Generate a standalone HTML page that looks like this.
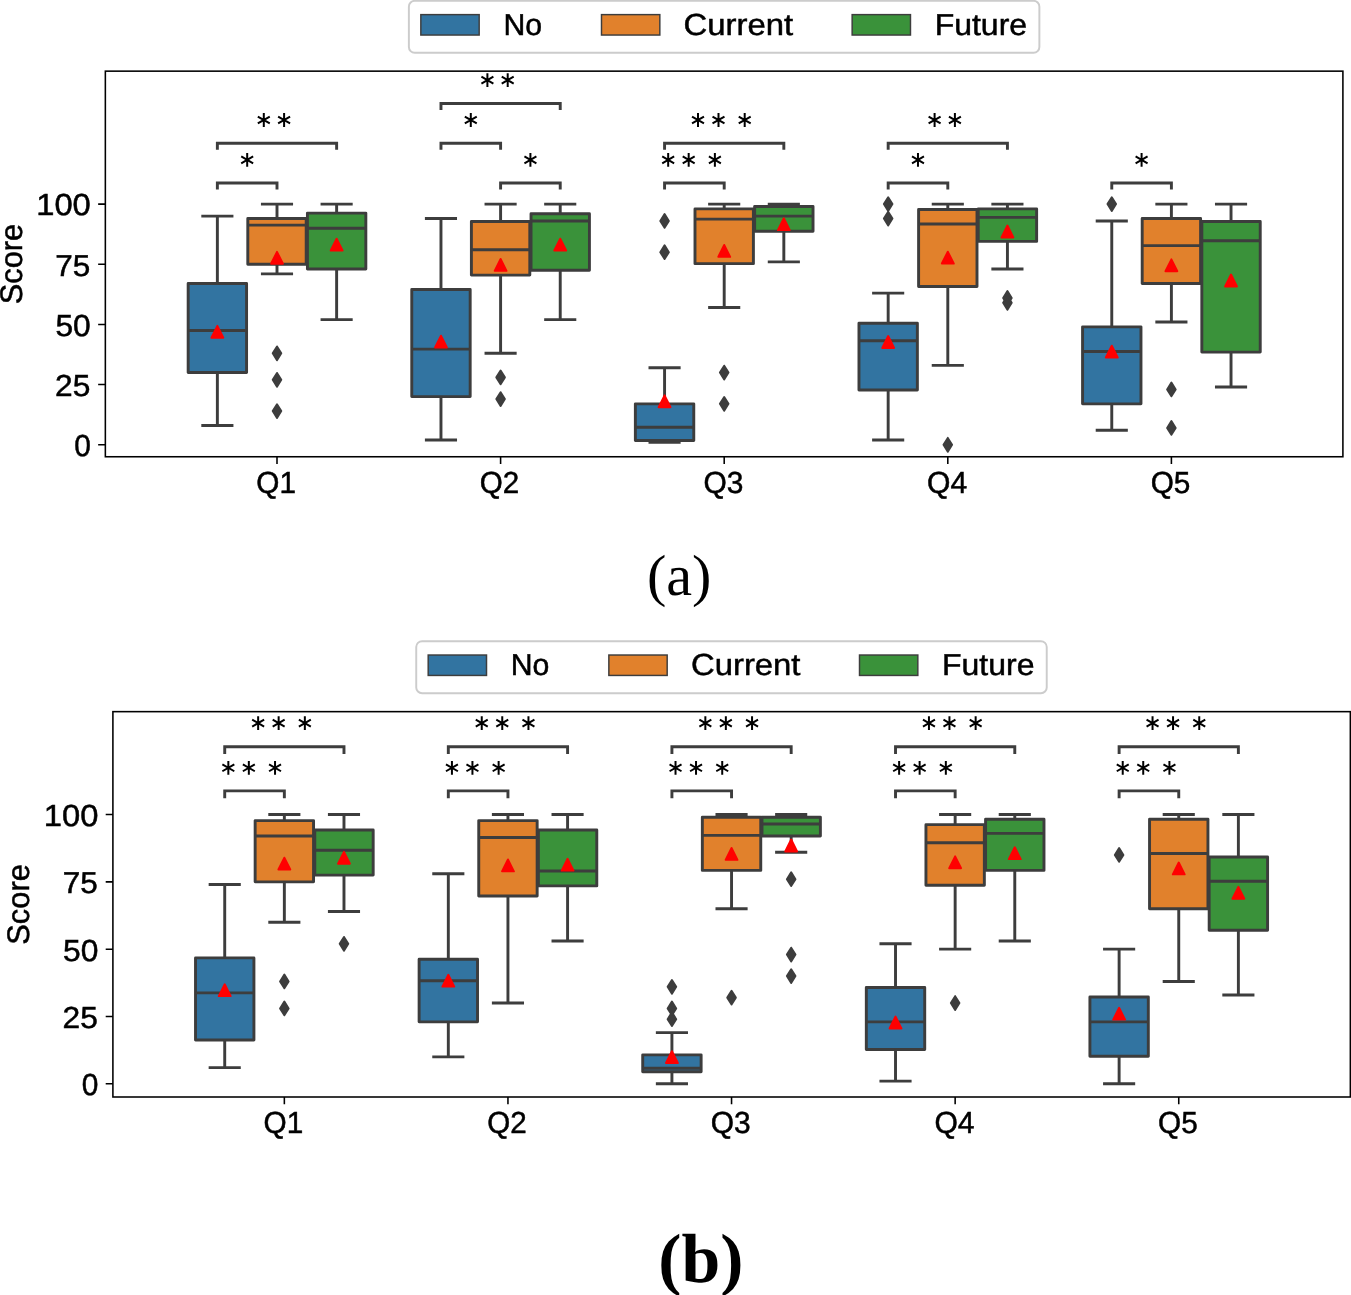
<!DOCTYPE html>
<html><head><meta charset="utf-8"><title>Score boxplots</title>
<style>
html,body{margin:0;padding:0;background:#fff;}
body{width:1351px;height:1295px;overflow:hidden;}
svg{display:block;will-change:transform;}
text{font-family:"Liberation Sans",sans-serif;fill:#000;stroke:#000;stroke-width:0.5px;text-rendering:geometricPrecision;}
.cap{font-family:"Liberation Serif",serif;stroke:none;}
</style></head><body>
<svg width="1351" height="1295" viewBox="0 0 1351 1295">
<rect width="1351" height="1295" fill="#fff"/>
<!-- chart a -->
<g stroke="#3d3d3d" stroke-width="2.92" stroke-linejoin="round"><rect x="188.17" y="283.52" width="58.4" height="89.04" fill="#3274a1"/><rect x="247.8" y="218.54" width="58.4" height="45.73" fill="#e1812c"/><rect x="307.43" y="213.12" width="58.4" height="55.95" fill="#3a923a"/><rect x="411.77" y="289.53" width="58.4" height="107.09" fill="#3274a1"/><rect x="471.4" y="221.55" width="58.4" height="53.55" fill="#e1812c"/><rect x="531.03" y="213.73" width="58.4" height="56.56" fill="#3a923a"/><rect x="635.37" y="403.85" width="58.4" height="36.7" fill="#3274a1"/><rect x="695" y="208.91" width="58.4" height="54.75" fill="#e1812c"/><rect x="754.63" y="206.51" width="58.4" height="24.67" fill="#3a923a"/><rect x="858.97" y="323.23" width="58.4" height="66.78" fill="#3274a1"/><rect x="918.6" y="209.51" width="58.4" height="77.01" fill="#e1812c"/><rect x="978.23" y="208.91" width="58.4" height="32.49" fill="#3a923a"/><rect x="1082.57" y="326.84" width="58.4" height="77.01" fill="#3274a1"/><rect x="1142.2" y="218.54" width="58.4" height="64.98" fill="#e1812c"/><rect x="1201.83" y="221.55" width="58.4" height="130.56" fill="#3a923a"/></g>
<g stroke="#3d3d3d" stroke-width="2.92" fill="none"><path d="M217.37 283.52V216.13M217.37 372.56V425.51M201.31 216.13H233.43M201.31 425.51H233.43M188.17 330.45H246.57"/><path d="M277 218.54V204.1M277 264.26V273.89M260.94 204.1H293.06M260.94 273.89H293.06M247.8 225.16H306.2"/><path d="M336.63 213.12V204.1M336.63 269.08V319.62M320.57 204.1H352.69M320.57 319.62H352.69M307.43 228.17H365.83"/><path d="M440.97 289.53V218.54M440.97 396.63V439.95M424.91 218.54H457.03M424.91 439.95H457.03M411.77 349.1H470.17"/><path d="M500.6 221.55V204.1M500.6 275.09V353.31M484.54 204.1H516.66M484.54 353.31H516.66M471.4 249.83H529.8"/><path d="M560.23 213.73V204.1M560.23 270.28V319.62M544.17 204.1H576.29M544.17 319.62H576.29M531.03 220.95H589.43"/><path d="M664.57 403.85V367.75M664.57 440.55V442.35M648.51 367.75H680.63M648.51 442.35H680.63M635.37 427.31H693.77"/><path d="M724.2 208.91V204.1M724.2 263.66V307.58M708.14 204.1H740.26M708.14 307.58H740.26M695 219.14H753.4"/><path d="M783.83 206.51V204.1M783.83 231.17V261.86M767.77 204.1H799.89M767.77 261.86H799.89M754.63 216.13H813.03"/><path d="M888.17 323.23V293.14M888.17 390.01V439.95M872.11 293.14H904.23M872.11 439.95H904.23M858.97 340.67H917.37"/><path d="M947.8 209.51V204.1M947.8 286.53V365.34M931.74 204.1H963.86M931.74 365.34H963.86M918.6 223.95H977"/><path d="M1007.43 208.91V204.1M1007.43 241.4V269.08M991.37 204.1H1023.49M991.37 269.08H1023.49M978.23 217.34H1036.63"/><path d="M1111.77 326.84V220.95M1111.77 403.85V430.32M1095.71 220.95H1127.83M1095.71 430.32H1127.83M1082.57 351.5H1140.97"/><path d="M1171.4 218.54V204.1M1171.4 283.52V322.02M1155.34 204.1H1187.46M1155.34 322.02H1187.46M1142.2 245.61H1200.6"/><path d="M1231.03 221.55V204.1M1231.03 352.11V387M1214.97 204.1H1247.09M1214.97 387H1247.09M1201.83 240.8H1260.23"/></g>
<g stroke="#3d3d3d" stroke-width="1.94" fill="#3d3d3d" stroke-linejoin="round"><path d="M277 346.44l4.3 6.87l-4.3 6.87l-4.3 -6.87z"/><path d="M277 372.91l4.3 6.87l-4.3 6.87l-4.3 -6.87z"/><path d="M277 404.2l4.3 6.87l-4.3 6.87l-4.3 -6.87z"/><path d="M500.6 370.51l4.3 6.87l-4.3 6.87l-4.3 -6.87z"/><path d="M500.6 392.16l4.3 6.87l-4.3 6.87l-4.3 -6.87z"/><path d="M664.57 214.08l4.3 6.87l-4.3 6.87l-4.3 -6.87z"/><path d="M664.57 245.36l4.3 6.87l-4.3 6.87l-4.3 -6.87z"/><path d="M724.2 365.69l4.3 6.87l-4.3 6.87l-4.3 -6.87z"/><path d="M724.2 396.98l4.3 6.87l-4.3 6.87l-4.3 -6.87z"/><path d="M888.17 197.23l4.3 6.87l-4.3 6.87l-4.3 -6.87z"/><path d="M888.17 211.67l4.3 6.87l-4.3 6.87l-4.3 -6.87z"/><path d="M947.8 437.89l4.3 6.87l-4.3 6.87l-4.3 -6.87z"/><path d="M1007.43 291.09l4.3 6.87l-4.3 6.87l-4.3 -6.87z"/><path d="M1007.43 295.9l4.3 6.87l-4.3 6.87l-4.3 -6.87z"/><path d="M1111.77 197.23l4.3 6.87l-4.3 6.87l-4.3 -6.87z"/><path d="M1171.4 382.54l4.3 6.87l-4.3 6.87l-4.3 -6.87z"/><path d="M1171.4 421.04l4.3 6.87l-4.3 6.87l-4.3 -6.87z"/></g>
<g stroke="#ff0000" stroke-width="1.94" fill="#ff0000" stroke-linejoin="round"><path d="M217.37 325.85l5.95 11.9h-11.9z"/><path d="M277 251.85l5.95 11.9h-11.9z"/><path d="M336.63 238.65l5.95 11.9h-11.9z"/><path d="M440.97 335.65l5.95 11.9h-11.9z"/><path d="M500.6 258.95l5.95 11.9h-11.9z"/><path d="M560.23 238.65l5.95 11.9h-11.9z"/><path d="M664.57 395.35l5.95 11.9h-11.9z"/><path d="M724.2 244.95l5.95 11.9h-11.9z"/><path d="M783.83 218.25l5.95 11.9h-11.9z"/><path d="M888.17 336.05l5.95 11.9h-11.9z"/><path d="M947.8 251.65l5.95 11.9h-11.9z"/><path d="M1007.43 225.55l5.95 11.9h-11.9z"/><path d="M1111.77 345.65l5.95 11.9h-11.9z"/><path d="M1171.4 259.35l5.95 11.9h-11.9z"/><path d="M1231.03 274.55l5.95 11.9h-11.9z"/></g>
<g stroke="#3d3d3d" stroke-width="2.92" fill="none" stroke-linejoin="miter"><path d="M217.37 149.75V143.25H336.63V149.75"/><path d="M217.37 189.5V183H277V189.5"/><path d="M440.97 110V103.5H560.23V110"/><path d="M440.97 149.75V143.25H500.6V149.75"/><path d="M500.6 189.5V183H560.23V189.5"/><path d="M664.57 149.75V143.25H783.83V149.75"/><path d="M664.57 189.5V183H724.2V189.5"/><path d="M888.17 149.75V143.25H1007.43V149.75"/><path d="M888.17 189.5V183H947.8V189.5"/><path d="M1111.77 189.5V183H1171.4V189.5"/></g>
<g stroke="#000" stroke-width="2.0" fill="none"><path d="M263.8 113.1V126.9M257.82 116.55L269.78 123.45M257.82 123.45L269.78 116.55" /><path d="M284.1 113.1V126.9M278.12 116.55L290.08 123.45M278.12 123.45L290.08 116.55" /><path d="M247.19 153V166.8M241.21 156.45L253.16 163.35M241.21 163.35L253.16 156.45" /><path d="M487.4 73.2V87M481.42 76.65L493.38 83.55M481.42 83.55L493.38 76.65" /><path d="M507.7 73.2V87M501.72 76.65L513.68 83.55M501.72 83.55L513.68 76.65" /><path d="M470.79 113.1V126.9M464.81 116.55L476.76 123.45M464.81 123.45L476.76 116.55" /><path d="M530.41 153V166.8M524.44 156.45L536.39 163.35M524.44 163.35L536.39 156.45" /><path d="M698 113.1V126.9M692.02 116.55L703.98 123.45M692.02 123.45L703.98 116.55" /><path d="M718.5 113.1V126.9M712.52 116.55L724.48 123.45M712.52 123.45L724.48 116.55" /><path d="M744.7 113.1V126.9M738.72 116.55L750.68 123.45M738.72 123.45L750.68 116.55" /><path d="M668.18 153V166.8M662.21 156.45L674.16 163.35M662.21 163.35L674.16 156.45" /><path d="M688.68 153V166.8M682.71 156.45L694.66 163.35M682.71 163.35L694.66 156.45" /><path d="M714.88 153V166.8M708.91 156.45L720.86 163.35M708.91 163.35L720.86 156.45" /><path d="M934.6 113.1V126.9M928.62 116.55L940.58 123.45M928.62 123.45L940.58 116.55" /><path d="M954.9 113.1V126.9M948.92 116.55L960.88 123.45M948.92 123.45L960.88 116.55" /><path d="M917.98 153V166.8M912.01 156.45L923.96 163.35M912.01 163.35L923.96 156.45" /><path d="M1141.59 153V166.8M1135.61 156.45L1147.56 163.35M1135.61 163.35L1147.56 156.45" /></g>
<rect x="105.35" y="71.15" width="1237.55" height="385.6" fill="none" stroke="#000" stroke-width="1.56"/>
<path d="M105.35 444.76h-7.2M105.35 384.59h-7.2M105.35 324.43h-7.2M105.35 264.26h-7.2M105.35 204.1h-7.2M277 456.75v7.2M500.6 456.75v7.2M724.2 456.75v7.2M947.8 456.75v7.2M1171.4 456.75v7.2" stroke="#000" stroke-width="1.56" fill="none"/>
<text transform="matrix(0.9843 0 0 1 74.18 456.12)" font-size="30.37">0</text>
<text transform="matrix(1.0450 0 0 1 55 395.95)" font-size="30.37">25</text>
<text transform="matrix(1.0458 0 0 1 55.43 335.79)" font-size="30.37">50</text>
<text transform="matrix(1.0407 0 0 1 55.27 275.63)" font-size="30.25">75</text>
<text transform="matrix(1.0782 0 0 1 36.2 215.46)" font-size="30.37">100</text>
<text transform="matrix(0.9806 0 0 1 256.25 492.61)" font-size="30.37">Q1</text>
<text transform="matrix(0.9745 0 0 1 479.86 492.61)" font-size="30.37">Q2</text>
<text transform="matrix(0.9861 0 0 1 703.44 492.61)" font-size="30.37">Q3</text>
<text transform="matrix(0.9926 0 0 1 927.03 492.61)" font-size="30.37">Q4</text>
<text transform="matrix(0.9804 0 0 1 1150.65 492.61)" font-size="30.37">Q5</text>
<text transform="translate(22.3 303.15) rotate(-90) matrix(0.9876 0 0 1 -1.14 -0.31)" font-size="31.2">Score</text>
<rect x="408.88" y="0.81" width="630.5" height="52" rx="5.83" ry="5.83" fill="#fff" stroke="#cccccc" stroke-width="1.94"/>
<rect x="420.84" y="14.62" width="58.33" height="20.42" fill="#3274a1" stroke="#3d3d3d" stroke-width="1.46"/>
<text transform="matrix(0.9987 0 0 1 503.43 34.86)" font-size="30.25">No</text>
<rect x="601.5" y="14.62" width="58.33" height="20.42" fill="#e1812c" stroke="#3d3d3d" stroke-width="1.46"/>
<text transform="matrix(1.0818 0 0 1 683.61 34.86)" font-size="30.37">Current</text>
<rect x="852.15" y="14.62" width="58.33" height="20.42" fill="#3a923a" stroke="#3d3d3d" stroke-width="1.46"/>
<text transform="matrix(1.0567 0 0 1 934.69 34.86)" font-size="30.25">Future</text>
<text class="cap" transform="matrix(1.0024 0 0 1 646.88 594.77)" font-size="58">(a)</text>
<!-- chart b -->
<g stroke="#3d3d3d" stroke-width="2.92" stroke-linejoin="round"><rect x="195.52" y="957.91" width="58.4" height="82.12" fill="#3274a1"/><rect x="255.15" y="820.6" width="58.4" height="61.25" fill="#e1812c"/><rect x="314.78" y="830.02" width="58.4" height="45.1" fill="#3a923a"/><rect x="419.12" y="959.26" width="58.4" height="62.6" fill="#3274a1"/><rect x="478.75" y="820.6" width="58.4" height="75.39" fill="#e1812c"/><rect x="538.38" y="830.02" width="58.4" height="55.87" fill="#3a923a"/><rect x="642.72" y="1054.84" width="58.4" height="16.83" fill="#3274a1"/><rect x="702.35" y="817.23" width="58.4" height="53.17" fill="#e1812c"/><rect x="761.98" y="817.23" width="58.4" height="18.85" fill="#3a923a"/><rect x="866.32" y="987.53" width="58.4" height="61.93" fill="#3274a1"/><rect x="925.95" y="824.64" width="58.4" height="60.58" fill="#e1812c"/><rect x="985.58" y="819.25" width="58.4" height="51.16" fill="#3a923a"/><rect x="1089.92" y="996.95" width="58.4" height="59.23" fill="#3274a1"/><rect x="1149.55" y="819.25" width="58.4" height="89.52" fill="#e1812c"/><rect x="1209.18" y="856.95" width="58.4" height="73.37" fill="#3a923a"/></g>
<g stroke="#3d3d3d" stroke-width="2.92" fill="none"><path d="M224.72 957.91V884.54M224.72 1040.03V1067.63M208.66 884.54H240.78M208.66 1067.63H240.78M195.52 992.91H253.92"/><path d="M284.35 820.6V814.54M284.35 881.85V922.24M268.29 814.54H300.41M268.29 922.24H300.41M255.15 836.08H313.55"/><path d="M343.98 830.02V814.54M343.98 875.12V911.47M327.92 814.54H360.04M327.92 911.47H360.04M314.78 850.21H373.18"/><path d="M448.32 959.26V873.77M448.32 1021.85V1056.86M432.26 873.77H464.38M432.26 1056.86H464.38M419.12 980.8H477.52"/><path d="M507.95 820.6V814.54M507.95 895.99V1003.01M491.89 814.54H524.01M491.89 1003.01H524.01M478.75 837.43H537.15"/><path d="M567.58 830.02V814.54M567.58 885.89V941.08M551.52 814.54H583.64M551.52 941.08H583.64M538.38 871.08H596.78"/><path d="M671.92 1054.84V1032.62M671.92 1071.66V1083.78M655.86 1032.62H687.98M655.86 1083.78H687.98M642.72 1068.3H701.12"/><path d="M731.55 817.23V814.54M731.55 870.41V908.77M715.49 814.54H747.61M715.49 908.77H747.61M702.35 835.41H760.75"/><path d="M791.18 817.23V814.54M791.18 836.08V852.23M775.12 814.54H807.24M775.12 852.23H807.24M761.98 823.96H820.38"/><path d="M895.52 987.53V943.78M895.52 1049.45V1081.09M879.46 943.78H911.58M879.46 1081.09H911.58M866.32 1021.85H924.72"/><path d="M955.15 824.64V814.54M955.15 885.22V949.16M939.09 814.54H971.21M939.09 949.16H971.21M925.95 842.81H984.35"/><path d="M1014.78 819.25V814.54M1014.78 870.41V941.08M998.72 814.54H1030.84M998.72 941.08H1030.84M985.58 833.39H1043.98"/><path d="M1119.12 996.95V949.16M1119.12 1056.18V1083.78M1103.06 949.16H1135.18M1103.06 1083.78H1135.18M1089.92 1021.85H1148.32"/><path d="M1178.75 819.25V814.54M1178.75 908.77V981.47M1162.69 814.54H1194.81M1162.69 981.47H1194.81M1149.55 853.58H1207.95"/><path d="M1238.38 856.95V814.54M1238.38 930.31V994.93M1222.32 814.54H1254.44M1222.32 994.93H1254.44M1209.18 881.18H1267.58"/></g>
<g stroke="#3d3d3d" stroke-width="1.94" fill="#3d3d3d" stroke-linejoin="round"><path d="M284.35 974.6l4.3 6.87l-4.3 6.87l-4.3 -6.87z"/><path d="M284.35 1001.52l4.3 6.87l-4.3 6.87l-4.3 -6.87z"/><path d="M343.98 936.91l4.3 6.87l-4.3 6.87l-4.3 -6.87z"/><path d="M671.92 979.98l4.3 6.87l-4.3 6.87l-4.3 -6.87z"/><path d="M671.92 1001.52l4.3 6.87l-4.3 6.87l-4.3 -6.87z"/><path d="M671.92 1012.29l4.3 6.87l-4.3 6.87l-4.3 -6.87z"/><path d="M731.55 990.75l4.3 6.87l-4.3 6.87l-4.3 -6.87z"/><path d="M791.18 872.29l4.3 6.87l-4.3 6.87l-4.3 -6.87z"/><path d="M791.18 947.67l4.3 6.87l-4.3 6.87l-4.3 -6.87z"/><path d="M791.18 969.21l4.3 6.87l-4.3 6.87l-4.3 -6.87z"/><path d="M955.15 996.14l4.3 6.87l-4.3 6.87l-4.3 -6.87z"/><path d="M1119.12 848.06l4.3 6.87l-4.3 6.87l-4.3 -6.87z"/></g>
<g stroke="#ff0000" stroke-width="1.94" fill="#ff0000" stroke-linejoin="round"><path d="M224.72 984.25l5.95 11.9h-11.9z"/><path d="M284.35 857.65l5.95 11.9h-11.9z"/><path d="M343.98 851.85l5.95 11.9h-11.9z"/><path d="M448.32 974.75l5.95 11.9h-11.9z"/><path d="M507.95 859.45l5.95 11.9h-11.9z"/><path d="M567.58 858.75l5.95 11.9h-11.9z"/><path d="M671.92 1051.15l5.95 11.9h-11.9z"/><path d="M731.55 847.95l5.95 11.9h-11.9z"/><path d="M791.18 839.55l5.95 11.9h-11.9z"/><path d="M895.52 1016.55l5.95 11.9h-11.9z"/><path d="M955.15 856.35l5.95 11.9h-11.9z"/><path d="M1014.78 847.25l5.95 11.9h-11.9z"/><path d="M1119.12 1007.75l5.95 11.9h-11.9z"/><path d="M1178.75 862.5l5.95 11.9h-11.9z"/><path d="M1238.38 886.85l5.95 11.9h-11.9z"/></g>
<g stroke="#3d3d3d" stroke-width="2.92" fill="none" stroke-linejoin="miter"><path d="M224.72 753.97V746.7H343.98V753.97"/><path d="M448.32 753.97V746.7H567.58V753.97"/><path d="M671.92 753.97V746.7H791.18V753.97"/><path d="M895.52 753.97V746.7H1014.78V753.97"/><path d="M1119.12 753.97V746.7H1238.38V753.97"/><path d="M224.72 798.17V790.9H284.35V798.17"/><path d="M448.32 798.17V790.9H507.95V798.17"/><path d="M671.92 798.17V790.9H731.55V798.17"/><path d="M895.52 798.17V790.9H955.15V798.17"/><path d="M1119.12 798.17V790.9H1178.75V798.17"/></g>
<g stroke="#000" stroke-width="2.0" fill="none"><path d="M258.15 716.2V730M252.17 719.65L264.13 726.55M252.17 726.55L264.13 719.65" /><path d="M278.65 716.2V730M272.67 719.65L284.63 726.55M272.67 726.55L284.63 719.65" /><path d="M304.85 716.2V730M298.87 719.65L310.83 726.55M298.87 726.55L310.83 719.65" /><path d="M481.75 716.2V730M475.77 719.65L487.73 726.55M475.77 726.55L487.73 719.65" /><path d="M502.25 716.2V730M496.27 719.65L508.23 726.55M496.27 726.55L508.23 719.65" /><path d="M528.45 716.2V730M522.47 719.65L534.43 726.55M522.47 726.55L534.43 719.65" /><path d="M705.35 716.2V730M699.37 719.65L711.33 726.55M699.37 726.55L711.33 719.65" /><path d="M725.85 716.2V730M719.87 719.65L731.83 726.55M719.87 726.55L731.83 719.65" /><path d="M752.05 716.2V730M746.07 719.65L758.03 726.55M746.07 726.55L758.03 719.65" /><path d="M928.95 716.2V730M922.97 719.65L934.93 726.55M922.97 726.55L934.93 719.65" /><path d="M949.45 716.2V730M943.47 719.65L955.43 726.55M943.47 726.55L955.43 719.65" /><path d="M975.65 716.2V730M969.67 719.65L981.63 726.55M969.67 726.55L981.63 719.65" /><path d="M1152.55 716.2V730M1146.57 719.65L1158.53 726.55M1146.57 726.55L1158.53 719.65" /><path d="M1173.05 716.2V730M1167.07 719.65L1179.03 726.55M1167.07 726.55L1179.03 719.65" /><path d="M1199.25 716.2V730M1193.27 719.65L1205.23 726.55M1193.27 726.55L1205.23 719.65" /><path d="M228.34 760.9V774.7M222.36 764.35L234.31 771.25M222.36 771.25L234.31 764.35" /><path d="M248.84 760.9V774.7M242.86 764.35L254.81 771.25M242.86 771.25L254.81 764.35" /><path d="M275.04 760.9V774.7M269.06 764.35L281.01 771.25M269.06 771.25L281.01 764.35" /><path d="M451.94 760.9V774.7M445.96 764.35L457.91 771.25M445.96 771.25L457.91 764.35" /><path d="M472.44 760.9V774.7M466.46 764.35L478.41 771.25M466.46 771.25L478.41 764.35" /><path d="M498.64 760.9V774.7M492.66 764.35L504.61 771.25M492.66 771.25L504.61 764.35" /><path d="M675.53 760.9V774.7M669.56 764.35L681.51 771.25M669.56 771.25L681.51 764.35" /><path d="M696.03 760.9V774.7M690.06 764.35L702.01 771.25M690.06 771.25L702.01 764.35" /><path d="M722.23 760.9V774.7M716.26 764.35L728.21 771.25M716.26 771.25L728.21 764.35" /><path d="M899.13 760.9V774.7M893.16 764.35L905.11 771.25M893.16 771.25L905.11 764.35" /><path d="M919.63 760.9V774.7M913.66 764.35L925.61 771.25M913.66 771.25L925.61 764.35" /><path d="M945.84 760.9V774.7M939.86 764.35L951.81 771.25M939.86 771.25L951.81 764.35" /><path d="M1122.73 760.9V774.7M1116.76 764.35L1128.71 771.25M1116.76 771.25L1128.71 764.35" /><path d="M1143.23 760.9V774.7M1137.26 764.35L1149.21 771.25M1137.26 771.25L1149.21 764.35" /><path d="M1169.43 760.9V774.7M1163.46 764.35L1175.41 771.25M1163.46 771.25L1175.41 764.35" /></g>
<rect x="112.9" y="711.65" width="1237.45" height="385.35" fill="none" stroke="#000" stroke-width="1.56"/>
<path d="M112.9 1083.78h-7.2M112.9 1016.47h-7.2M112.9 949.16h-7.2M112.9 881.85h-7.2M112.9 814.54h-7.2M284.35 1097v7.2M507.95 1097v7.2M731.55 1097v7.2M955.15 1097v7.2M1178.75 1097v7.2" stroke="#000" stroke-width="1.56" fill="none"/>
<text transform="matrix(0.9843 0 0 1 81.73 1095.14)" font-size="30.37">0</text>
<text transform="matrix(1.0450 0 0 1 62.55 1027.83)" font-size="30.37">25</text>
<text transform="matrix(1.0458 0 0 1 62.98 960.52)" font-size="30.37">50</text>
<text transform="matrix(1.0407 0 0 1 62.82 893.21)" font-size="30.25">75</text>
<text transform="matrix(1.0782 0 0 1 43.75 825.9)" font-size="30.37">100</text>
<text transform="matrix(0.9806 0 0 1 263.6 1133.01)" font-size="30.37">Q1</text>
<text transform="matrix(0.9745 0 0 1 487.21 1133.01)" font-size="30.37">Q2</text>
<text transform="matrix(0.9861 0 0 1 710.79 1133.01)" font-size="30.37">Q3</text>
<text transform="matrix(0.9926 0 0 1 934.38 1133.01)" font-size="30.37">Q4</text>
<text transform="matrix(0.9804 0 0 1 1158 1133.01)" font-size="30.37">Q5</text>
<text transform="translate(29.65 943.55) rotate(-90) matrix(0.9876 0 0 1 -1.14 -0.31)" font-size="31.2">Score</text>
<rect x="416.23" y="641.21" width="630.5" height="52" rx="5.83" ry="5.83" fill="#fff" stroke="#cccccc" stroke-width="1.94"/>
<rect x="428.19" y="655.02" width="58.33" height="20.42" fill="#3274a1" stroke="#3d3d3d" stroke-width="1.46"/>
<text transform="matrix(0.9987 0 0 1 510.78 675.26)" font-size="30.25">No</text>
<rect x="608.85" y="655.02" width="58.33" height="20.42" fill="#e1812c" stroke="#3d3d3d" stroke-width="1.46"/>
<text transform="matrix(1.0818 0 0 1 690.96 675.26)" font-size="30.37">Current</text>
<rect x="859.5" y="655.02" width="58.33" height="20.42" fill="#3a923a" stroke="#3d3d3d" stroke-width="1.46"/>
<text transform="matrix(1.0567 0 0 1 942.04 675.26)" font-size="30.25">Future</text>
<text class="cap" transform="matrix(1.0028 0 0 1 658.31 1282)" font-size="69.5" font-weight="bold">(b)</text>
</svg>
</body></html>
